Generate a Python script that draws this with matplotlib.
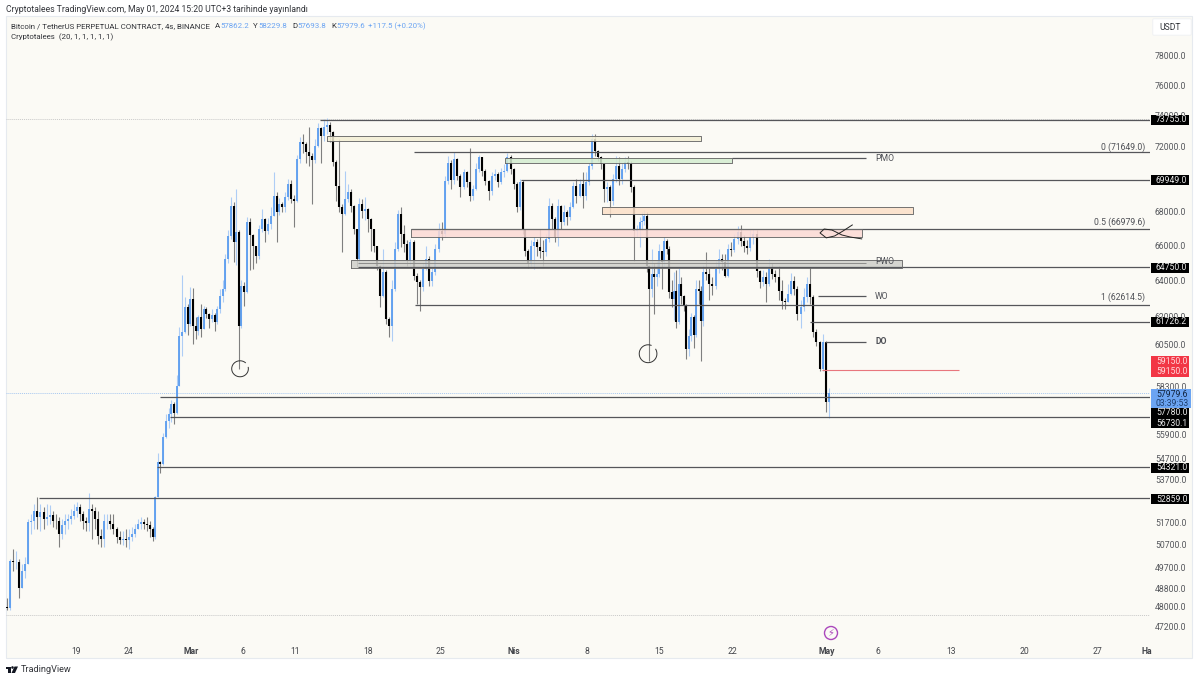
import numpy as np
import matplotlib
matplotlib.use("Agg")
import matplotlib.pyplot as plt
from matplotlib.patches import Rectangle, Circle, FancyBboxPatch, Polygon
from matplotlib.ticker import NullLocator

plt.rcParams['font.family'] = ['Roboto', 'DejaVu Sans']

# ---- candles (thousand USDT), read section by section; day 0 = 19 Feb 2024
first_open = 48.0
days_a = (-6.62, 7.39)
close_a = [47.95,50.0,49.96,49.96,48.79,49.56,49.87,51.73,51.78,52.24,51.96,52.19,51.87,51.96,52.05,51.78,51.76,51.19,51.6,51.78,51.87,52.01,52.24,52.42,52.1,51.78,51.68,52.33,52.24,51.87,51.1,50.97,51.78,51.8,51.64,51.42,51.06,50.93,50.97,50.93,51.06,51.19,51.42,51.64,51.73,51.64,51.6,51.42,51.06]
high_a = [48.37,50.09,50.53,50.44,50.09,49.87,50.18,51.87,52.1,52.56,52.9,52.56,52.42,52.56,52.51,52.24,52.1,51.96,51.87,52.1,52.1,52.33,52.56,52.65,52.56,52.24,51.96,53.08,52.56,52.42,52.24,51.42,52.1,52.1,52.1,52.1,51.51,51.33,51.33,51.42,51.42,51.51,51.64,51.87,51.96,51.87,51.96,51.78,51.51]
low_a = [47.88,47.88,49.56,49.65,48.37,48.79,49.22,49.87,51.19,51.42,51.42,51.33,51.42,51.6,51.64,51.51,51.42,50.62,50.97,51.19,51.42,51.64,51.87,51.96,51.78,51.42,51.33,51.33,50.97,51.42,50.75,50.62,50.62,51.42,51.42,51.19,50.79,50.75,50.7,50.62,50.53,50.88,51.06,51.42,51.42,51.42,51.33,51.06,50.88]

days_b = (7.58, 15.64)
close_b = [52.89,54.55,54.45,55.77,56.56,56.91,57.41,56.96,58.33,60.95,61.17,62.53,61.6,62.97,61.49,61.2,61.98,61.33,62.42,62.14,61.87,62.1,61.7,62.42,63.14,63.53,65.23,66.56,68.34,66.21,66.8,61.49]
high_b = [52.94,54.98,54.6,55.95,56.9,57.2,57.6,57.5,58.9,61.44,64.32,63.1,62.7,63.64,63.6,62.0,62.1,62.69,62.6,62.5,62.2,62.4,62.2,62.6,63.5,64.0,65.5,66.9,68.9,68.6,69.37,66.9]
low_b = [50.98,52.89,54.0,54.4,55.7,56.2,56.5,56.4,56.9,58.3,59.9,61.1,61.0,61.5,60.52,60.79,61.0,60.9,61.3,61.9,61.4,61.7,61.2,61.6,62.2,62.8,63.4,65.0,66.4,65.06,64.9,59.21]

days_c = (15.83, 30.9)
close_c = [63.7,63.36,67.39,66.6,65.97,65.4,66.97,67.57,66.85,67.27,67.75,68.95,67.98,68.46,68.27,68.89,69.68,68.77,68.65,71.23,72.29,72.17,71.67,71.42,71.2,72.05,73.2,72.67,73.3,73.41,72.97,71.04,69.56,68.28,67.86,68.77,69.2,68.34,66.97,65.23,68.46,68.04,68.16,67.57,66.97,65.97,64.83,63.14,64.49,61.87,61.5,63.53,65.8,67.86]
high_c = [64.0,63.9,67.7,67.6,66.7,66.0,67.2,68.16,67.6,67.6,68.3,70.43,69.2,68.8,68.6,69.2,70.0,69.9,69.0,71.5,72.6,72.79,72.3,73.3,71.6,72.5,73.5,73.3,73.79,73.85,73.6,73.0,71.2,72.48,68.46,70.5,69.7,69.4,68.4,67.0,68.8,68.77,68.9,68.2,67.6,67.0,66.0,64.9,65.8,64.6,62.0,64.0,66.2,68.1]
low_c = [61.4,62.6,63.3,64.6,64.66,65.0,65.2,66.8,66.2,66.7,67.0,68.0,66.2,67.8,68.0,68.0,68.7,68.5,67.09,68.6,71.0,71.6,71.0,70.8,68.47,71.0,72.0,71.0,72.4,72.8,72.3,70.8,68.65,68.0,65.63,67.8,68.6,68.0,66.7,64.77,64.9,67.6,67.5,66.8,65.7,65.6,64.6,62.55,63.1,61.6,60.9,60.7,63.4,65.7]

days_d = (31.19, 42.9)
close_d = [66.68,66.1,65.1,66.2,64.26,63.92,63.64,64.66,65.23,63.98,64.49,65.8,66.85,66.7,69.87,71.0,69.9,71.23,70.17,69.49,70.4,69.8,68.96,69.37,70.61,71.35,70.49,69.87,69.25,70.17,70.3,69.8,70.42,70.5,71.35,70.61,69.68,68.28,69.8,66.97]
high_d = [68.28,67.2,66.3,66.4,66.3,64.4,64.0,65.0,65.97,65.4,64.7,66.1,67.3,67.4,70.2,71.4,71.2,71.67,71.3,70.3,70.6,70.5,71.9,69.6,71.0,71.5,71.3,70.6,69.9,70.4,70.6,70.4,70.7,70.9,71.6,71.5,70.7,69.8,70.0,69.9]
low_d = [65.9,65.6,64.8,64.9,64.0,62.69,62.3,63.4,64.6,63.7,63.7,64.3,65.6,66.3,66.5,69.7,69.4,69.7,69.9,68.9,69.4,69.5,68.65,68.7,69.3,70.4,70.2,69.6,68.7,69.0,69.9,69.5,69.7,70.1,70.4,70.3,69.4,68.0,68.1,66.7]

days_e = (43.09, 54.13)
close_e = [65.69,64.94,65.97,66.2,65.9,65.69,65.63,66.39,68.34,67.57,66.51,68.34,67.4,68.0,67.68,68.28,69.56,68.95,69.7,68.95,69.8,70.8,72.48,71.73,71.35,70.92,69.37,69.5,68.65,69.99,70.8,70.0,70.61,71.04,70.9,69.49,66.85,66.97,67.39]
high_e = [67.0,65.8,66.3,66.5,66.4,66.97,66.3,66.7,68.8,68.5,67.7,68.77,68.4,68.4,68.1,68.6,69.8,70.0,70.0,70.4,70.4,71.0,72.79,72.8,71.8,71.4,71.0,69.8,69.6,70.3,71.4,71.35,71.0,71.35,71.4,71.1,69.6,67.2,67.7]
low_e = [65.4,64.7,64.8,64.66,65.4,65.3,64.8,65.4,66.2,67.0,66.2,65.95,67.0,67.2,67.2,67.5,68.2,68.5,68.9,68.2,68.7,69.6,70.6,71.4,71.1,70.6,68.6,68.6,67.7,68.4,69.8,69.6,69.7,70.4,70.6,69.2,65.11,66.5,65.9]

days_f = (54.32, 59.98)
close_f = [67.45,67.75,64.83,63.53,64.37,64.2,64.37,65.68,65.06,66.27,65.8,63.36,62.97,63.42,61.7,63.81,63.14,62.58,60.26,60.95,61.98,61.0,63.53,63.42,61.76]
high_f = [68.0,68.1,68.0,64.9,65.8,65.0,65.1,66.1,65.7,66.5,66.4,66.0,64.0,64.5,64.6,64.7,64.2,63.2,62.7,61.3,62.2,62.1,64.0,64.0,63.7]
low_f = [66.9,67.2,64.5,59.6,63.1,62.14,63.7,64.2,63.5,64.8,65.5,63.0,62.5,61.8,61.4,61.6,62.7,62.3,59.73,59.9,60.7,60.3,60.9,62.7,59.6]

days_g = (60.17, 72.26)
close_g = [64.49,64.37,63.81,63.7,64.66,65.23,65.06,64.26,65.8,65.73,66.39,66.8,66.27,65.97,65.85,66.5,66.68,64.55,63.9,64.2,63.81,64.77,64.37,64.2,63.42,62.86,62.8,63.25,63.98,63.53,62.14,62.53,63.08,63.81,63.08,61.17,60.63,59.21,60.63,57.51,57.98]
high_g = [64.9,65.6,64.7,64.2,65.1,65.8,65.5,65.5,66.1,66.2,66.7,67.15,67.2,66.6,66.3,66.9,67.0,66.9,64.6,64.6,64.5,65.2,65.0,64.6,64.8,64.0,63.0,63.8,64.4,64.26,63.7,62.9,63.6,64.2,64.77,63.2,61.3,60.7,61.06,60.7,58.23]
low_g = [61.5,64.0,62.9,63.2,63.5,64.4,64.6,64.2,64.2,65.4,65.6,66.1,66.0,65.6,65.5,65.7,66.1,64.2,63.6,63.7,62.8,63.7,64.1,63.9,62.9,62.42,62.4,62.9,63.2,63.2,61.8,61.4,62.3,62.8,62.7,60.9,60.4,59.1,59.1,57.0,56.7]

# ---- drawings: price levels (USDT) with start/end day
x_end = 103.07
level_price = [73755.0, 71649.0, 71290.0, 69949.0, 66979.6, 64750.0, 63150.0, 62614.5, 61726.2, 60650.0, 57780.0, 56730.1, 54321.0, 52859.0]
level_start = [23.4, 32.4, 63.0, 42.7, 32.15, 27.1, 71.2, 32.5, 70.4, 71.9, 8.06, 9.0, 7.8, -3.55]
level_end = [x_end, x_end, 75.8, x_end, x_end, x_end, 75.8, x_end, x_end, 75.8, x_end, x_end, x_end, x_end]
pwo_level = (65000.0, 27.1, 75.8)
red_level = (59150.0, 71.6, 84.7)
zone_low = [72400, 71000, 67860, 66500, 64720]
zone_high = [72720, 71290, 68280, 66979, 65190]
zone_start = [24.1, 41.2, 50.5, 32.15, 26.4]
zone_end = [60.0, 63.0, 80.3, 75.4, 79.3]
zone_fill = ['#f3efd4', '#d4ecd0', '#fbdfc8', '#fbd9d5', '#cfcfca']
squiggle_day = [74.5, 73.6, 72.8, 72.0, 71.4, 71.8, 72.55, 73.5, 74.3, 75.4]
squiggle_price = [67210, 66850, 66560, 66450, 66740, 66970, 66910, 66620, 66500, 66390]
hline_high, hline_low, last_price = 73777.0, 47660.0, 57979.6

inline_text = ['0 (71649.0)', '0.5 (66979.6)', '1 (62614.5)']
inline_price = [71990, 67390, 63060]
inline_day = [102.6, 102.6, 102.6]
side_text = ['PMO', 'PWO', 'WO', 'DO']
side_price = [71290, 65060, 63120, 60650]
side_bold = [False, False, False, True]

price_ticks = [78000, 76000, 74000, 72000, 68000, 66000, 64000, 62000, 60500, 58300, 55900, 54700, 53700, 51700, 50700, 49700, 48800, 48000, 47200]
date_ticks = [0, 5, 11, 16, 21, 28, 35, 42, 49, 56, 63, 72, 77, 84, 91, 98, 102.8]
date_labels = ['19', '24', 'Mar', '6', '11', '18', '25', 'Nis', '8', '15', '22', 'May', '6', '13', '20', '27', 'Ha']
bold_dates = {'Mar', 'Nis', 'May', 'Ha'}
black_tags = ['73755.0', '69949.0', '64750.0', '61726.2', '57780.0', '56730.1', '54321.0', '52859.0']
black_tag_y = [120, 180.5, 268, 322, 413, 423, 468, 499]

W, H = 1200, 680
fig = plt.figure(figsize=(W/100, H/100), dpi=100, facecolor='white')
BG = '#fbfaf5'
def fx(x): return x / W
def fy(y): return 1 - y / H

fig.patches.append(Rectangle((fx(6), fy(658)), 1186/W, 642/H, transform=fig.transFigure,
                             facecolor=BG, edgecolor='#e6eaef', lw=0.8, zorder=-5))
ax = fig.add_axes([fx(6), fy(645), 1144/W, 629/H])
ax.set_facecolor('none')
for s in ax.spines.values():
    s.set_visible(False)

sections = [(days_a, close_a, high_a, low_a), (days_b, close_b, high_b, low_b),
            (days_c, close_c, high_c, low_c), (days_d, close_d, high_d, low_d),
            (days_e, close_e, high_e, low_e), (days_f, close_f, high_f, low_f),
            (days_g, close_g, high_g, low_g)]
day = np.concatenate([np.linspace(s[0][0], s[0][1], len(s[1])) for s in sections])
close = np.concatenate([s[1] for s in sections]) * 1000
high = np.concatenate([s[2] for s in sections]) * 1000
low = np.concatenate([s[3] for s in sections]) * 1000
opn = np.concatenate([[first_open * 1000], close[:-1]])
up = close >= opn
high = np.maximum.reduce([high, close, opn])
low = np.minimum.reduce([low, close, opn])

UPC, UPW, DNC, DNW = '#5f9fef', '#aecdf5', '#000000', '#7f7f7f'
ax.vlines(day[up], low[up], high[up], color=UPW, lw=0.8, zorder=2)
ax.vlines(day[~up], low[~up], high[~up], color=DNW, lw=0.8, zorder=2)
ax.vlines(day[up], opn[up], close[up], color=UPC, lw=1.35, zorder=2.2)
ax.vlines(day[~up], close[~up], opn[~up], color=DNC, lw=1.5, zorder=2.3)

LC = '#55565a'
ax.hlines(level_price, level_start, level_end, color=LC, lw=0.9, zorder=3)
ax.hlines(pwo_level[0], pwo_level[1], pwo_level[2], color='#8c8c8a', lw=0.7, zorder=3)
ax.hlines(red_level[0], red_level[1], red_level[2], color='#e8767d', lw=0.8, zorder=3)
for a, b, s, e, c in zip(zone_low, zone_high, zone_start, zone_end, zone_fill):
    ax.fill_between([s, e], a, b, facecolor=c, edgecolor='none', alpha=0.85, zorder=2.5)
    ax.plot([s, e, e, s, s], [a, a, b, b, a], color='#6a6a6a', lw=0.65, zorder=3)
for v, c in ((hline_high, '#c9c9c9'), (hline_low, '#c9c9c9'), (last_price, '#a8c8f0')):
    ax.axhline(v, color=c, lw=0.7, ls=(0, (1, 1)), zorder=1)

# hand-drawn marks
for cday, cprice, rd, rp, a0 in ((15.74, 59210, 0.8, 0.00705, 50), (54.9, 60000, 0.85, 0.0079, 70)):
    t = np.deg2rad(np.arange(a0, a0 + 325, 10))
    ax.plot(cday + rd * np.cos(t), cprice * np.exp(rp * np.sin(t)), color='#333333', lw=0.7, zorder=4)
ax.plot(squiggle_day, squiggle_price, color='#222222', lw=0.7, zorder=4)

for t, p, d in zip(inline_text, inline_price, inline_day):
    ax.text(d, p, t, fontsize=6.2, color='#4d4f55', ha='right', va='center', zorder=5)
for t, p, b in zip(side_text, side_price, side_bold):
    ax.text(76.7, p, t, fontsize=6.2, color='#4d4f55', ha='left', va='center', zorder=5,
            fontweight='bold' if b else 'normal')

ax.set_yscale('log')
ax.set_xlim(-6.72, x_end)
ax.set_ylim(46418, 80798)
ax.yaxis.set_minor_locator(NullLocator())
ax.yaxis.tick_right()
ax.set_yticks(price_ticks)
ax.set_yticklabels([f'{p:.1f}' for p in price_ticks], fontsize=6.2, color='#55575c')
ax.tick_params(axis='y', length=0, pad=3.5)
ax.set_xticks(date_ticks)
ax.set_xticklabels(date_labels, fontsize=6.2, color='#44464b')
ax.tick_params(axis='x', length=0, pad=1.2)
for lab in ax.get_xticklabels():
    if lab.get_text() in bold_dates:
        lab.set_fontweight('bold')

# right-hand price tags
def tag(y, txt, fc, tc, x0=1151, x1=1189, h=10):
    fig.patches.append(Rectangle((fx(x0), fy(y + h/2)), (x1 - x0)/W, h/H, transform=fig.transFigure,
                                 facecolor=fc, edgecolor='none', zorder=6))
    fig.text(fx(1156), fy(y), txt, fontsize=6.2, color=tc, va='center', ha='left', zorder=7)

for t, y in zip(black_tags, black_tag_y):
    tag(y, t, '#000000', '#e8e8e8')
tag(361.5, '59150.0', '#f23645', '#ffd9dc', h=11)
tag(371.5, '59150.0', '#f23645', '#ffd9dc', h=11)
tag(394, f'{last_price:.1f}', '#6ba4f2', '#10223c', x1=1191, h=10)
tag(403, '03:39:53', '#6ba4f2', '#1f3f6e', x1=1191, h=10)

# USDT box
fig.patches.append(FancyBboxPatch((fx(1154), fy(34.5)), 36/W, 15/H, transform=fig.transFigure,
                                  boxstyle='round,pad=0.001', facecolor='white', edgecolor='#eef0f3', lw=0.6, zorder=6))
fig.text(fx(1159), fy(27), 'USDT', fontsize=6.2, color='#33353a', va='center', zorder=7)

# header
HF = 5.7
fig.text(fx(6), fy(9.5), 'Cryptotalees TradingView.com, May 01, 2024 15:20 UTC+3 tarihinde yayınlandı',
         fontsize=6.25, color='#33353a', va='center')
fig.text(fx(11), fy(26), 'Bitcoin / TetherUS PERPETUAL CONTRACT, 4s, BINANCE', fontsize=HF, color='#33353a', va='center')
fig.text(fx(11), fy(37), 'Cryptotalees  (20, 1, 1, 1, 1, 1)', fontsize=HF, color='#33353a', va='center')
for lx, l, vx, v in ((215, 'A', 220, '57862.2'), (253, 'Y', 258, '58229.8'), (292, 'D', 297, '57693.8'), (331, 'K', 336, '57979.6')):
    fig.text(fx(lx), fy(26), l, fontsize=HF, color='#33353a', va='center')
    fig.text(fx(vx), fy(26), v, fontsize=HF, color='#6ba4f2', va='center')
fig.text(fx(368), fy(26), '+117.5 (+0.20%)', fontsize=HF, color='#6ba4f2', va='center')

# lightning marker
fig.patches.append(Circle((831, H - 633), 6.5, transform=None, facecolor=BG, edgecolor='#ab47bc', lw=1.0, zorder=6))
fig.text(fx(831), fy(633), '\u26a1', fontsize=7, color='#ab47bc', ha='center', va='center', family='DejaVu Sans', zorder=7)

# footer logo
fig.patches.append(Rectangle((fx(6), fy(669)), 5/W, 2.5/H, transform=fig.transFigure, facecolor='#131722', zorder=6))
fig.patches.append(Rectangle((fx(8), fy(673)), 2.5/W, 6/H, transform=fig.transFigure, facecolor='#131722', zorder=6))
fig.patches.append(Circle((12.5, H - 667.5), 1.3, transform=None, facecolor='#131722', zorder=6))
fig.patches.append(Polygon([(fx(14.5), fy(666.5)), (fx(18), fy(666.5)), (fx(15), fy(673)), (fx(11.5), fy(673))],
                           closed=True, transform=fig.transFigure, facecolor='#131722', zorder=6))
fig.text(fx(20.5), fy(669.5), 'TradingView', fontsize=6.6, color='#33353a', va='center')

fig.savefig('out.png', dpi=100, facecolor='white')
